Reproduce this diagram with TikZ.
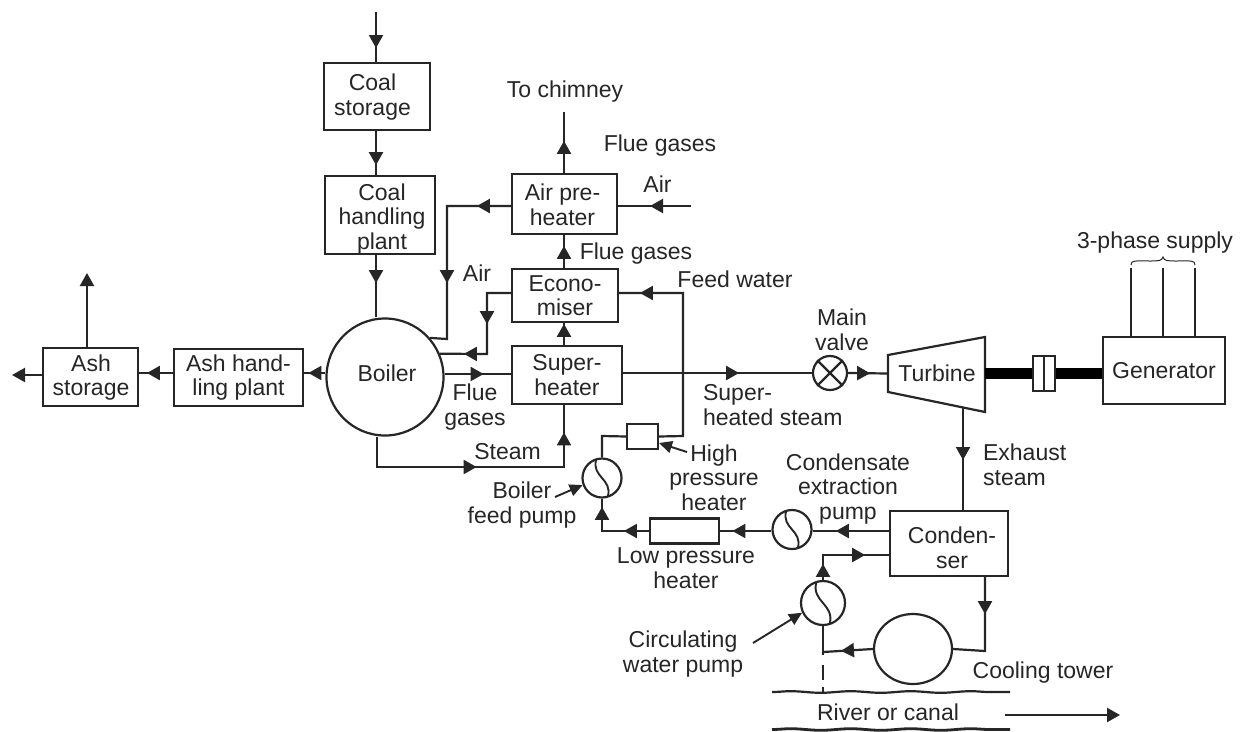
\documentclass[tikz,border=0pt]{standalone}
\usepackage{fontspec}
\setmainfont{Liberation Sans}
\usetikzlibrary{arrows.meta,decorations.markings,decorations.pathmorphing,calc,shapes.geometric}
\definecolor{ink}{HTML}{262626}
\tikzset{
  x=1pt,y=-1pt,
  box/.style={draw=ink,line width=2.2pt,fill=white,inner sep=0pt,align=center,text=ink,
    font=\fontsize{23}{24.5}\selectfont},
  disc/.style={circle,draw=ink,line width=2.2pt,fill=white,inner sep=0pt,text=ink,
    font=\fontsize{23}{24.5}\selectfont},
  lbl/.style={inner sep=0pt,align=center,text=ink,font=\fontsize{23}{24.5}\selectfont},
  lbll/.style={lbl,align=left},
  tip/.tip={Triangle[length=13pt,width=14pt]},
  flow/.style={postaction={decorate,decoration={markings,mark=at position #1pt with {\arrow{tip}}}}},
  endtip/.style={-{Triangle[length=13pt,width=14pt]}},
  pointer/.style={-{Triangle[length=13pt,width=12pt]},line width=1.9pt},
}
\newcommand{\pumpS}[2]{% node name, radius
  \draw[line width=1.9pt] ($(#1.center)+(-0.3*#2,-0.95*#2)$) .. controls ($(#1.center)+(-0.55*#2,-0.05*#2)$) and ($(#1.center)+(0.55*#2,0.05*#2)$) .. ($(#1.center)+(0.3*#2,0.95*#2)$);}
\begin{document}
\begin{tikzpicture}[line width=2.2pt,ink]
\useasboundingbox[fill=white] (0,0) rectangle (1247,731);
% boxes
\node[box,minimum width=106pt,minimum height=67pt] (cs) at (377,96.5) {};
\node[box,minimum width=110pt,minimum height=78pt] (ch) at (380,215) {};
\node[disc,minimum size=117pt] (boiler) at (385,377) {};
\node[box,minimum width=129pt,minimum height=57pt] (ahp) at (238.5,377.5) {Ash hand-\\ling plant};
\node[box,minimum width=95pt,minimum height=58pt] (as) at (90.5,377) {};
\node[box,minimum width=105pt,minimum height=60pt] (aph) at (564.5,204) {};
\node[box,minimum width=106pt,minimum height=53pt] (eco) at (565,295.5) {Econo-\\miser};
\node[box,minimum width=110pt,minimum height=58pt] (sh) at (567,375) {Super-\\heater};
\node[box,minimum width=122pt,minimum height=67pt] (gen) at (1164,370.5) {Generator};
\node[box,minimum width=118pt,minimum height=65pt] (cond) at (949,543.5) {};
\node[box,minimum width=31pt,minimum height=25pt] (hp) at (642.5,436.5) {};
\node[box,minimum width=69pt,minimum height=25pt] (lp) at (684.5,531) {};
\node[disc,minimum size=39pt] (bfp) at (602,478) {};
\node[disc,minimum size=39pt] (cep) at (792,529.5) {};
\node[disc,minimum size=44pt] (cwp) at (823,603) {};
\node[disc,minimum size=34pt] (valve) at (830,373) {};
\node[draw=ink,line width=2.2pt,ellipse,inner sep=0pt,minimum width=78pt,minimum height=70pt,fill=white] (ct) at (913,649) {};
\node[box,minimum width=22pt,minimum height=35pt] (cpl) at (1044,373.5) {};
\draw (cpl.north) -- (cpl.south);
\pumpS{bfp}{19.5} \pumpS{cep}{19.5} \pumpS{cwp}{22}
\draw (valve.45) -- (valve.225) (valve.135) -- (valve.315);
% turbine
\coordinate (tl) at (888,373.5);
\coordinate (tr) at (985,373.5);
\draw[fill=white] (888,355) -- (985,337) -- (985,412) -- (888,392) -- cycle;
\node[lbl] (turb) at (937,373) {Turbine};
\node[lbl] (blr) at (387,373) {Boiler};
\node[lbl] (cnd) at (952,548) {Conden-\\ser};
\node[lbl] (cst) at (372.5,97) {Coal\\storage};
\node[lbl] (cht) at (382,219) {Coal\\handling\\plant};
\node[lbl] (ast) at (91,377.5) {Ash\\storage};
\node[lbl] (apt) at (562.5,205) {Air pre-\\heater};
% coordinates for free ends
\coordinate (coalin) at (376,12);
\coordinate (chim) at (564,112);
\coordinate (airin) at (691,206);
\coordinate (ashup) at (87,273);
\coordinate (ashl) at (12,375);
\coordinate (rivs) at (1005,715);
\coordinate (rive) at (1120,715);
% connectors
\draw[flow=36] (coalin) -- (coalin |- cs.north);
\draw[flow=34] (cs.south -| coalin) -- (ch.north -| coalin);
\draw[flow=28] (ch.south -| coalin) -- (boiler.north -| coalin);
\draw[flow=17] (boiler.west |- 0,373) -- (ahp.east |- 0,373);
\draw[flow=26] (ahp.west |- 0,373) -- (as.east |- 0,373);
\draw[endtip] (as.north -| ashup) -- (ashup);
\draw[endtip] (as.west |- ashl) -- (ashl);
\draw[flow=32] (aph.north -| chim) -- (chim);
\draw[flow=41] (airin) -- (aph.east |- airin);
\draw[flow=22] (eco.north -| chim) -- (aph.south -| chim);
\draw[flow=21] (sh.north -| chim) -- (eco.south -| chim);
% air from preheater to boiler
\draw[flow=34,flow=141] (aph.west |- airin) -- (447,206) -- (447,339) -- (boiler.41);
% economiser to boiler
\draw[flow=55,flow=108] (eco.west |- 0,293) -- (487,293) -- (487,354) -- (boiler.23);
% flue gases boiler to superheater
\draw[flow=39] (boiler.east |- 0,374) -- (sh.west |- 0,374);
% steam
\draw[flow=130,flow=252] (boiler.south -| 377,0) -- (377,467) -- (564,467) -- (sh.south -| 564,0);
% main steam
\draw[flow=116] (sh.east |- 0,373) -- (valve.west);
\draw[flow=22] (valve.east) -- (tl);
\draw[line width=11pt,draw=black] (tr) -- (cpl.west);
\draw[line width=11pt,draw=black] (cpl.east) -- (cpl.east -| gen.west);
% exhaust
\draw[flow=52] (963,408) -- (cond.north -| 963,0);
% condensate
\draw[flow=53] (cond.west |- 0,531) -- (cep.east |- 0,531);
\draw[flow=39] (cep.west |- 0,531) -- (lp.east |- 0,531);
\draw[flow=25,flow=71] (lp.west) -- (602,531) -- (bfp.south);
\draw (bfp.north) -- (602,436) -- (hp.west);
\draw[flow=210] (hp.east) -- (683,436) -- (683,293) -- (eco.east |- 0,293);
% cooling loop
\draw[flow=16,flow=67] (cwp.north) -- (823,555) -- (cond.west |- 0,555);
\draw[flow=37] (cond.south -| 985,0) -- (985,651) -- (ct.east);
\draw[flow=32] (ct.west) -- (823,652);
\draw (cwp.south) -- (823,655);
\draw[dash pattern=on 0pt off 10pt on 15pt off 7pt on 5pt off 0pt] (823,655) -- (823,692);
% river
\draw[decorate,decoration={snake,amplitude=0.8pt,segment length=60pt}] (772,692) -- (1010,692);
\draw[line width=2.8pt,decorate,decoration={snake,amplitude=0.8pt,segment length=60pt}] (772,729.5) -- (1010,729.5);
\draw[endtip] (rivs) -- (rive);
% 3 phase
\draw (1131,268) -- (1131,337) (1163,268) -- (1163,337) (1195,268) -- (1195,337);
\draw[line width=1pt] (1131,265) .. controls (1131,260) and (1135,261) .. (1150,261) .. controls (1158,261) and (1162,261) .. (1163,257) .. controls (1164,261) and (1168,261) .. (1176,261) .. controls (1191,261) and (1195,260) .. (1195,265);
% labels
\node[lbl] (l1) at (565,92) {To chimney};
\node[lbl] (l2) at (660,146) {Flue gases};
\node[lbl] (l3) at (657.5,184) {Air};
\node[lbl] (l4) at (636,254) {Flue gases};
\node[lbl] (l5) at (735,279) {Feed water};
\node[lbl] (l6) at (477,273) {Air};
\node[lbl] (l7) at (842,330) {Main\\valve};
\node[lbl] (l8) at (1155,243) {3-phase supply};
\node[lbl] (l9) at (475,407) {Flue\\gases};
\node[lbl] (l10) at (507.5,452) {Steam};
\node[lbll,anchor=west] (l11) at (702,405) {Super-\\heated steam};
\node[lbll,anchor=west] (l12) at (982,465) {Exhaust\\steam};
\node[lbl] (l13) at (714,477.5) {High\\pressure\\heater};
\node[lbl] (l14) at (522,505) {Boiler\\feed pump};
\node[lbl] (l15) at (848,489) {Condensate\\extraction\\pump};
\node[lbl] (l16) at (686,568) {Low pressure\\heater};
\node[lbl] (l17) at (683,654) {Circulating\\water pump};
\node[lbl] (l18) at (1043,673) {Cooling tower};
\node[lbl] (l19) at (888,712) {River or canal};
% pointers
\coordinate (p1) at (687,452);
\coordinate (p1t) at (659,443);
\coordinate (p2) at (555,497);
\coordinate (p3) at (753,643);
\draw[pointer] (p1) -- (p1t);
\draw[pointer] (p2) -- (bfp.200);
\draw[pointer] (p3) -- (cwp.205);
\end{tikzpicture}
\end{document}
